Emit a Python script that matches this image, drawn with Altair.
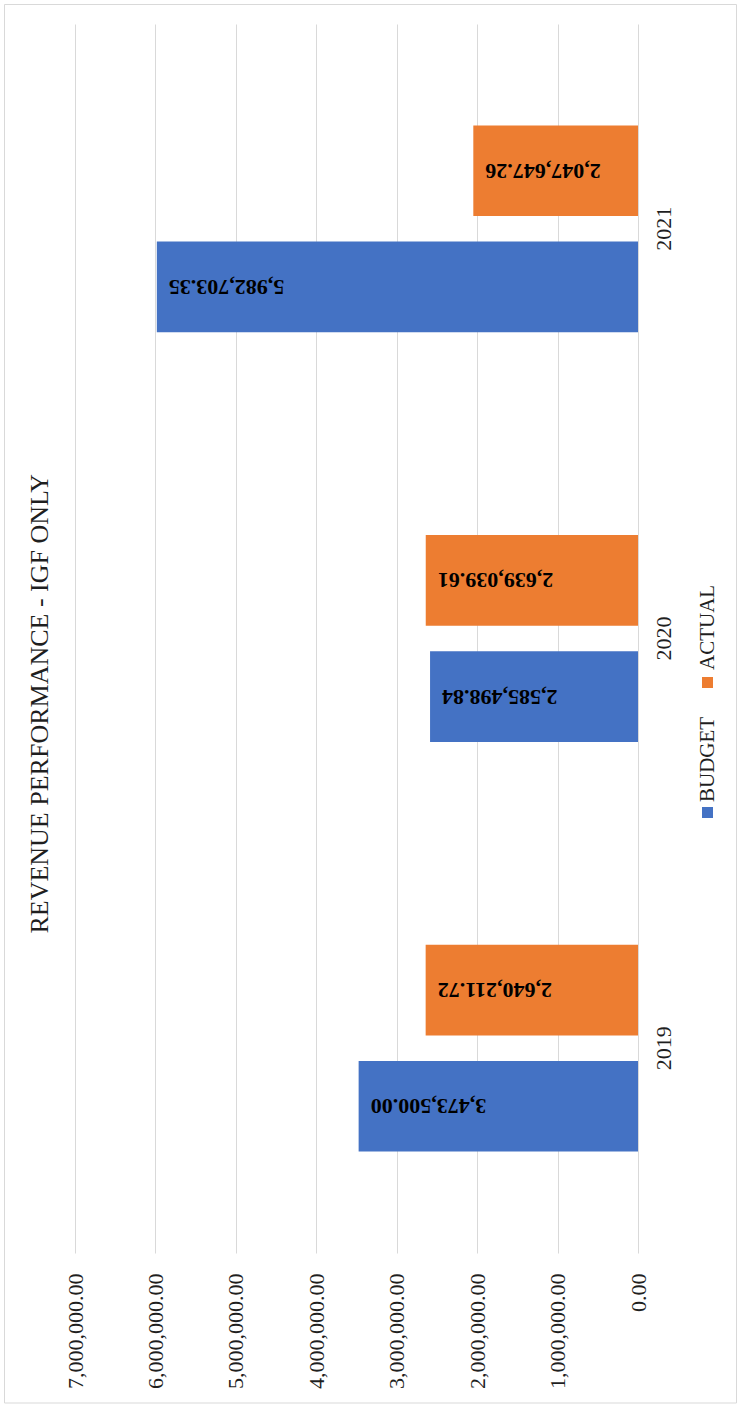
import altair as alt
import pandas as pd

years = ["2019", "2020", "2021"]
series = ["BUDGET", "ACTUAL"]
budget = [3473500.00, 2585498.84, 5982703.35]
actual = [2640211.72, 2639039.61, 2047647.26]
colors = ["#4472C4", "#ED7D31"]
tick_values = [0, 1000000, 2000000, 3000000, 4000000, 5000000, 6000000, 7000000]
title_text = "REVENUE PERFORMANCE - IGF ONLY"

rows = []
for i, y in enumerate(years):
    rows.append({"year": y, "series": "BUDGET", "value": budget[i]})
    rows.append({"year": y, "series": "ACTUAL", "value": actual[i]})
df = pd.DataFrame(rows)

FONT = "Liberation Serif"
GRID = "#d9d9d9"

x_enc = alt.X(
    "value:Q",
    scale=alt.Scale(domain=[0, 7000000], reverse=True, nice=False, zero=True),
    axis=alt.Axis(
        values=tick_values, format=",.2f", labelAngle=270, labelAlign="right",
        labelBaseline="middle", ticks=False, domain=False, grid=True,
        gridColor=GRID, labelPadding=20, labelFont=FONT, labelFontSize=22,
        labelColor="#1f1f1f", title=None,
    ),
)
y_enc = alt.Y(
    "year:N",
    sort=["2021", "2020", "2019"],
    scale=alt.Scale(paddingInner=0.495, paddingOuter=0.2475),
    axis=alt.Axis(
        orient="right", labelAngle=270, labelAlign="center", labelBaseline="top",
        ticks=False, domain=False, labelPadding=15, labelFont=FONT,
        labelFontSize=22, labelColor="#1f1f1f", title=None,
    ),
)
yoff_enc = alt.YOffset(
    "series:N", sort=["ACTUAL", "BUDGET"],
    scale=alt.Scale(paddingInner=0.22, paddingOuter=0),
)

base = alt.Chart(df)
bars = base.mark_bar().encode(
    x=x_enc, y=y_enc, yOffset=yoff_enc,
    color=alt.Color("series:N", scale=alt.Scale(domain=series, range=colors), legend=None),
)
labels = base.mark_text(
    angle=180, align="right", baseline="middle", dx=-12,
    font=FONT, fontSize=22, fontWeight="bold", color="#000000",
).encode(
    x=x_enc, y=y_enc, yOffset=yoff_enc,
    text=alt.Text("value:Q", format=",.2f"),
)

# manual rotated legend (legend entries read bottom-to-top)
leg_df_b = pd.DataFrame({"s": [series[0]]})
leg_df_a = pd.DataFrame({"s": [series[1]]})
leg_sq_b = alt.Chart(leg_df_b).mark_square(size=121, color=colors[0], opacity=1).encode(
    x=alt.value(632.5), y=alt.value(788.5))
leg_sq_a = alt.Chart(leg_df_a).mark_square(size=121, color=colors[1], opacity=1).encode(
    x=alt.value(632.5), y=alt.value(658.5))
leg_tx_b = alt.Chart(leg_df_b).mark_text(
    angle=270, align="left", baseline="middle", font=FONT, fontSize=21, color="#1f1f1f"
).encode(x=alt.value(633), y=alt.value(778), text="s:N")
leg_tx_a = alt.Chart(leg_df_a).mark_text(
    angle=270, align="left", baseline="middle", font=FONT, fontSize=21, color="#1f1f1f"
).encode(x=alt.value(633), y=alt.value(646), text="s:N")

border = alt.Chart(leg_df_b).mark_rect(
    fillOpacity=0, stroke=GRID, strokeWidth=1
).encode(x=alt.value(-70.5), x2=alt.value(661.5), y=alt.value(-19.5), y2=alt.value(1379))

chart = alt.layer(
    border, bars, labels, leg_sq_b, leg_sq_a, leg_tx_b, leg_tx_a
).properties(
    width=563,
    height=1229,
    padding={"left": 75, "top": 24, "right": 100, "bottom": 156},
    autosize=alt.AutoSizeParams(type="none"),
    title=alt.TitleParams(
        title_text, orient="left", anchor="middle", frame="bounds",
        font=FONT, fontSize=26, fontWeight="normal", color="#1f1f1f", offset=-49,
    ),
).configure_view(strokeWidth=0)

chart.save("out.html", embed_options={"renderer": "svg", "actions": False})
